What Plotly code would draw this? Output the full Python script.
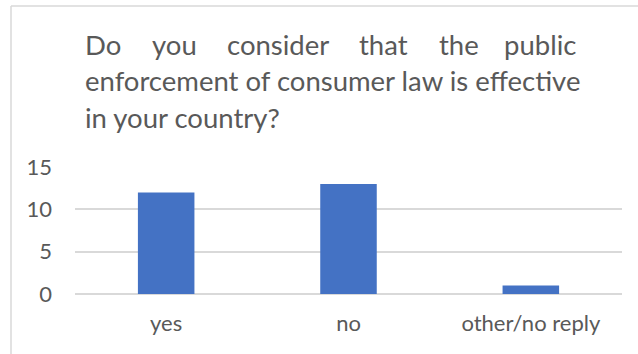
import plotly.graph_objects as go

# Survey answers
categories = ["yes", "no", "other/no reply"]
counts = [12, 13, 1]
y_ticks = [0, 5, 10, 15]

title_line1 = ["Do", "you", "consider", "that", "the", "public"]
title_line2 = "enforcement of consumer law is effective"
title_line3 = "in your country?"

W, H = 638, 354
L, R, T, B = 75, 16, 167, 60
PW, PH = W - L - R, H - T - B

TEXT = "#595959"
GRID = "#d9d9d9"
FONT = "Lato"
TITLE_SIZE = 27.5
TICK_SIZE = 22


def px_x(px):
    return (px - L) / PW


def px_y(py):
    return (H - B - py) / PH


fig = go.Figure(
    go.Bar(
        x=categories,
        y=counts,
        marker=dict(color="#4472c4", line=dict(width=0)),
        width=0.31,
    )
)

annotations = []
# First title line is justified: words spread between the left and right edges
word_left = [83, 150, 225, 357, 437, 578]
last = len(title_line1) - 1
for i, (w, xl) in enumerate(zip(title_line1, word_left)):
    annotations.append(dict(
        text=w, xref="paper", yref="paper", x=px_x(xl), y=px_y(44),
        xanchor="right" if i == last else "left", yanchor="middle",
        showarrow=False,
        font=dict(family=FONT, size=TITLE_SIZE, color=TEXT),
    ))
for txt, cy in [(title_line2, 80), (title_line3, 117)]:
    annotations.append(dict(
        text=txt, xref="paper", yref="paper", x=px_x(83), y=px_y(cy),
        xanchor="left", yanchor="middle", showarrow=False,
        font=dict(family=FONT, size=TITLE_SIZE, color=TEXT),
    ))

# Chart frame (left and top edges)
shapes = [
    dict(type="line", xref="paper", yref="paper",
         x0=px_x(11), x1=px_x(11), y0=px_y(6), y1=px_y(H + 5),
         line=dict(color=GRID, width=1.5)),
    dict(type="line", xref="paper", yref="paper",
         x0=px_x(11), x1=px_x(W + 5), y0=px_y(6), y1=px_y(6),
         line=dict(color=GRID, width=1.5)),
]

fig.update_layout(
    width=W, height=H,
    margin=dict(l=L, r=R, t=T, b=B),
    paper_bgcolor="white", plot_bgcolor="white",
    showlegend=False,
    annotations=annotations,
    shapes=shapes,
    font=dict(family=FONT, color=TEXT),
)
fig.update_xaxes(
    showgrid=False, showline=False, ticks="",
    tickfont=dict(family=FONT, size=TICK_SIZE, color=TEXT),
    ticklabelstandoff=14,
)
fig.update_yaxes(
    range=[0, 15], tickvals=y_ticks,
    showgrid=True, gridcolor=GRID, gridwidth=1.5,
    zeroline=True, zerolinecolor=GRID, zerolinewidth=1.5,
    showline=False, ticks="",
    tickfont=dict(family=FONT, size=TICK_SIZE, color=TEXT),
    ticklabelstandoff=22,
)

fig.write_html("out.html")
